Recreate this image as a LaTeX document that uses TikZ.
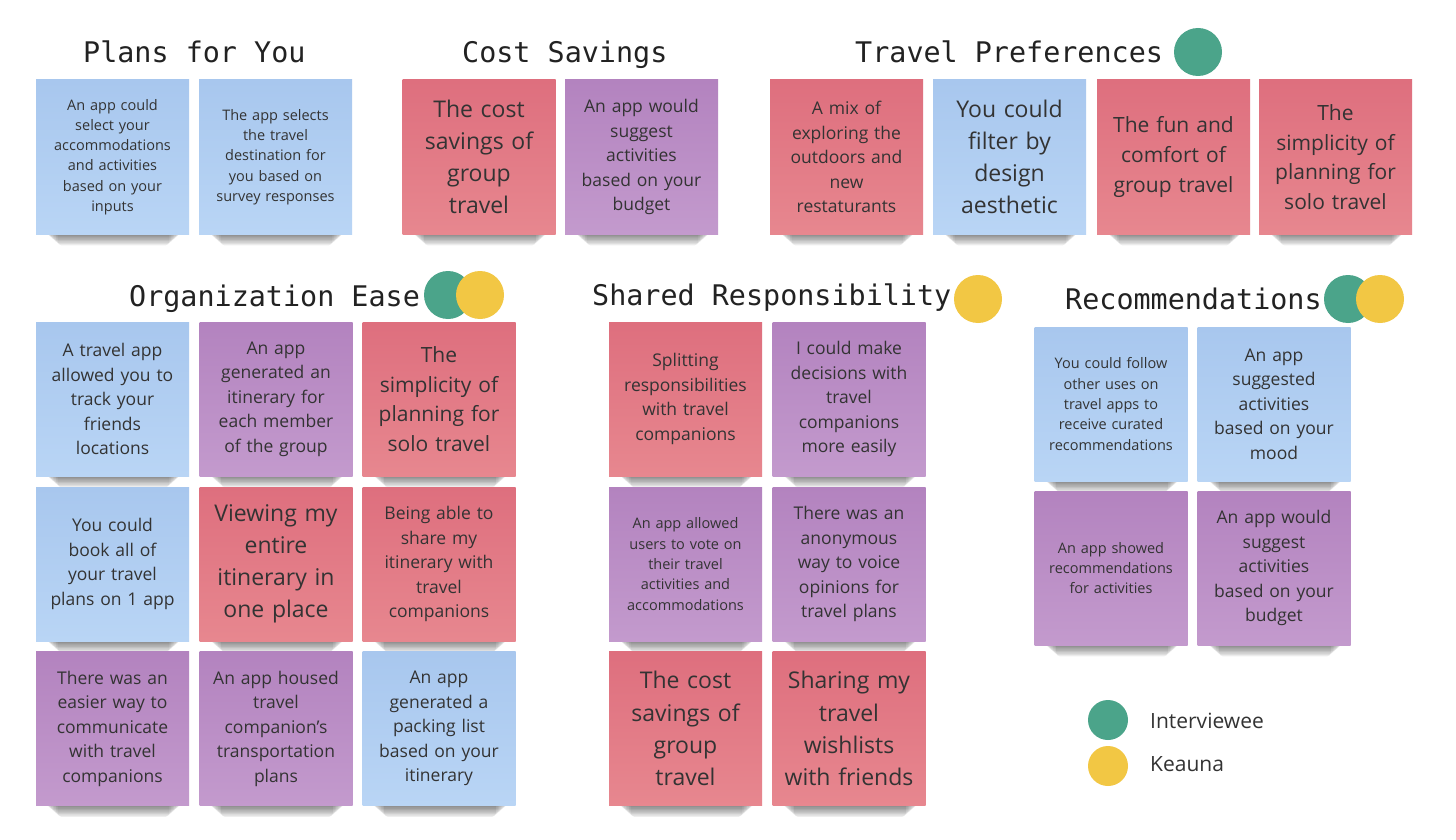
\documentclass[tikz,border=0pt]{standalone}
\usepackage{fontspec}
\setmainfont{Open Sans}
\newfontfamily\titlefont{DejaVu Sans Mono}

\pgfdeclarelayer{paper}
\pgfsetlayers{paper,main}

\definecolor{blueA}{HTML}{A8C7EE}
\definecolor{blueB}{HTML}{B9D5F5}
\definecolor{redA}{HTML}{DE6F7E}
\definecolor{redB}{HTML}{E7878F}
\definecolor{purpA}{HTML}{B383BF}
\definecolor{purpB}{HTML}{C39ACD}
\definecolor{dotgreen}{HTML}{4BA48A}
\definecolor{dotyellow}{HTML}{F2C744}
\definecolor{notetext}{HTML}{333333}
\definecolor{titletext}{HTML}{222222}

\tikzset{
  note/.style={minimum width=153pt, minimum height=154pt, inner sep=0pt,
    text width=150pt, align=center, text=notetext},
  bluenote/.style={note, top color=blueA, bottom color=blueB},
  rednote/.style={note, top color=redA, bottom color=redB},
  purplenote/.style={note, top color=purpA, bottom color=purpB},
  fsmall/.style={font=\fontsize{14.5}{20.3}\selectfont},
  fmid/.style={font=\fontsize{17.5}{24.5}\selectfont},
  flarge/.style={font=\fontsize{21}{29.6}\selectfont},
  fhuge/.style={font=\fontsize{23}{32.2}\selectfont},
  grouptitle/.style={anchor=base west, inner sep=0pt, text=titletext,
    font=\titlefont\fontsize{28.4}{30}\selectfont},
  dot/.style={circle, inner sep=0pt, minimum size=48pt},
  keydot/.style={circle, inner sep=0pt, minimum size=40pt},
  keylabel/.style={anchor=base west, inner sep=0pt, text=notetext,
    font=\fontsize{21}{25}\selectfont},
  curl/.style={black, opacity=0.065, rounded corners=4pt}
}

\begin{document}
\begin{tikzpicture}[x=1pt, y=-1pt]
\useasboundingbox (0,0) rectangle (1456,840);

% ---------- Plans for You ----------
\node[grouptitle] (tplans) at (83,63) {Plans for You};
\node[bluenote, fsmall] (p1) at (112.5,157) {An app could\\select your\\accommodations\\and activities\\based on your\\inputs};
\node[bluenote, fsmall] (p2) at (275.5,157) {The app selects\\the travel\\destination for\\you based on\\survey responses};

% ---------- Cost Savings ----------
\node[grouptitle] (tcost) at (462,63) {Cost Savings};
\node[rednote, fhuge] (c1) at (479,157) {The cost\\savings of\\group\\travel};
\node[purplenote, fmid] (c2) at (641.5,157) {An app would\\suggest\\activities\\based on your\\budget};

% ---------- Travel Preferences ----------
\node[grouptitle] (tpref) at (855,63) {Travel Preferences};
\node[dot, fill=dotgreen] (gpref) at (1198,52) {};
\node[rednote, fmid] (t1) at (846.5,157) {A mix of\\exploring the\\outdoors and\\new\\restaturants};
\node[bluenote, fhuge] (t2) at (1009.5,157) {You could\\filter by\\design\\aesthetic};
\node[rednote, flarge] (t3) at (1173.5,157) {The fun and\\comfort of\\group travel};
\node[rednote, flarge] (t4) at (1335.5,157) {The\\simplicity of\\planning for\\solo travel};

% ---------- Organization Ease ----------
\node[grouptitle] (torg) at (129,306) {Organization Ease};
\node[dot, fill=dotgreen] (gorg) at (448,295) {};
\node[dot, fill=dotyellow] (yorg) at (480,295) {};
\node[bluenote, fmid] (o1) at (112.5,399) {A travel app\\allowed you to\\track your\\friends\\locations};
\node[purplenote, fmid] (o2) at (276,399) {An app\\generated an\\itinerary for\\each member\\of the group};
\node[rednote, flarge] (o3) at (439,399) {The\\simplicity of\\planning for\\solo travel};
\node[bluenote, fmid] (o4) at (112.5,564) {You could\\book all of\\your travel\\plans on 1 app};
\node[rednote, fhuge] (o5) at (276,564) {Viewing my\\entire\\itinerary in\\one place};
\node[rednote, fmid] (o6) at (439,564) {Being able to\\share my\\itinerary with\\travel\\companions};
\node[purplenote, fmid] (o7) at (112.5,728.5) {There was an\\easier way to\\communicate\\with travel\\companions};
\node[purplenote, fmid] (o8) at (276,728.5) {An app housed\\travel\\companion's\\transportation\\plans};
\node[bluenote, fmid] (o9) at (439,728.5) {An app\\generated a\\packing list\\based on your\\itinerary};

% ---------- Shared Responsibility ----------
\node[grouptitle] (tshared) at (592,305) {Shared Responsibility};
\node[dot, fill=dotyellow] (yshared) at (978,299) {};
\node[rednote, fmid] (s1) at (685.5,399) {Splitting\\responsibilities\\with travel\\companions};
\node[purplenote, fmid] (s2) at (849,399) {I could make\\decisions with\\travel\\companions\\more easily};
\node[purplenote, fsmall] (s3) at (685.5,564) {An app allowed\\users to vote on\\their travel\\activities and\\accommodations};
\node[purplenote, fmid] (s4) at (849,564) {There was an\\anonymous\\way to voice\\opinions for\\travel plans};
\node[rednote, fhuge] (s5) at (685.5,728.5) {The cost\\savings of\\group\\travel};
\node[rednote, fhuge] (s6) at (849,728.5) {Sharing my\\travel\\wishlists\\with friends};

% ---------- Recommendations ----------
\node[grouptitle] (trec) at (1065,309) {Recommendations};
\node[dot, fill=dotgreen] (grec) at (1348,299) {};
\node[dot, fill=dotyellow] (yrec) at (1380,299) {};
\node[bluenote, fsmall] (r1) at (1111,404) {You could follow\\other uses on\\travel apps to\\receive curated\\recommendations};
\node[bluenote, fmid] (r2) at (1274,404) {An app\\suggested\\activities\\based on your\\mood};
\node[purplenote, fsmall] (r3) at (1111,568) {An app showed\\recommendations\\for activities};
\node[purplenote, fmid] (r4) at (1274,568) {An app would\\suggest\\activities\\based on your\\budget};

% ---------- Key ----------
\node[keydot, fill=dotgreen] (kgreen) at (1108,720) {};
\node[keydot, fill=dotyellow] (kyellow) at (1108,766) {};
\node[keylabel] (kint) at (1150,728) {Interviewee};
\node[keylabel] (kkea) at (1150,771) {Keauna};

% ---------- white board and the soft shadow under every note ----------
\begin{pgfonlayer}{paper}
\fill[white] (0,0) rectangle (1456,840);
\foreach \n in {p1,p2,c1,c2,t1,t2,t3,t4,o1,o2,o3,o4,o5,o6,o7,o8,o9,s1,s2,s3,s4,s5,s6,r1,r2,r3,r4}{
  \foreach \k in {1,...,8}{
    \pgfmathsetmacro{\inl}{9+1.6*\k}
    \pgfmathsetmacro{\inr}{7+1.6*\k}
    \pgfmathsetmacro{\drop}{1.4*\k}
    \fill[curl] ([xshift=\inl pt, yshift=12pt]\n.south west)
      rectangle ([xshift=-\inr pt, yshift=-\drop pt]\n.south east);
  }
}
\end{pgfonlayer}
\end{tikzpicture}
\end{document}
